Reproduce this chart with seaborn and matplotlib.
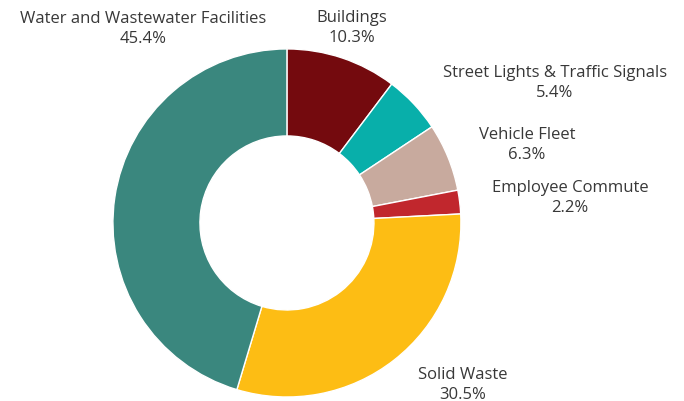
import matplotlib
matplotlib.use("Agg")
import matplotlib.pyplot as plt
import seaborn as sns

categories = ["Buildings", "Street Lights & Traffic Signals", "Vehicle Fleet",
              "Employee Commute", "Solid Waste", "Water and Wastewater Facilities"]
values = [10.3, 5.4, 6.3, 2.2, 30.5, 45.4]
colors = ["#740A0E", "#08AFAA", "#C8AA9E", "#C1272D", "#FDBD14", "#3A877E"]
# label centres (in pie-radius units, pie centred at 0,0)
label_pos = [(0.374, 1.126), (1.540, 0.810), (1.379, 0.454),
             (1.626, 0.149), (1.011, -0.925), (-0.828, 1.121)]

sns.set_theme(style="white")
plt.rcParams['font.family'] = ['Open Sans', 'DejaVu Sans']

fig = plt.figure(figsize=(6.84, 4.02), dpi=100)
ax = fig.add_axes([0, 0, 1, 1])
wedges, _ = ax.pie(values, colors=colors, startangle=90, counterclock=False,
                   radius=1.0, center=(0, 0),
                   wedgeprops=dict(width=0.5, edgecolor="white", linewidth=1))
for cat, val, (x, y) in zip(categories, values, label_pos):
    ax.text(x, y, f"{cat}\n{val}%", ha="center", va="center", fontsize=12,
            color="#383838", linespacing=1.38)
ax.set_xlim(-1.649, 2.282)
ax.set_ylim(-1.023, 1.287)
ax.set_aspect("auto")
ax.axis("off")
fig.savefig("out.png", dpi=100)
